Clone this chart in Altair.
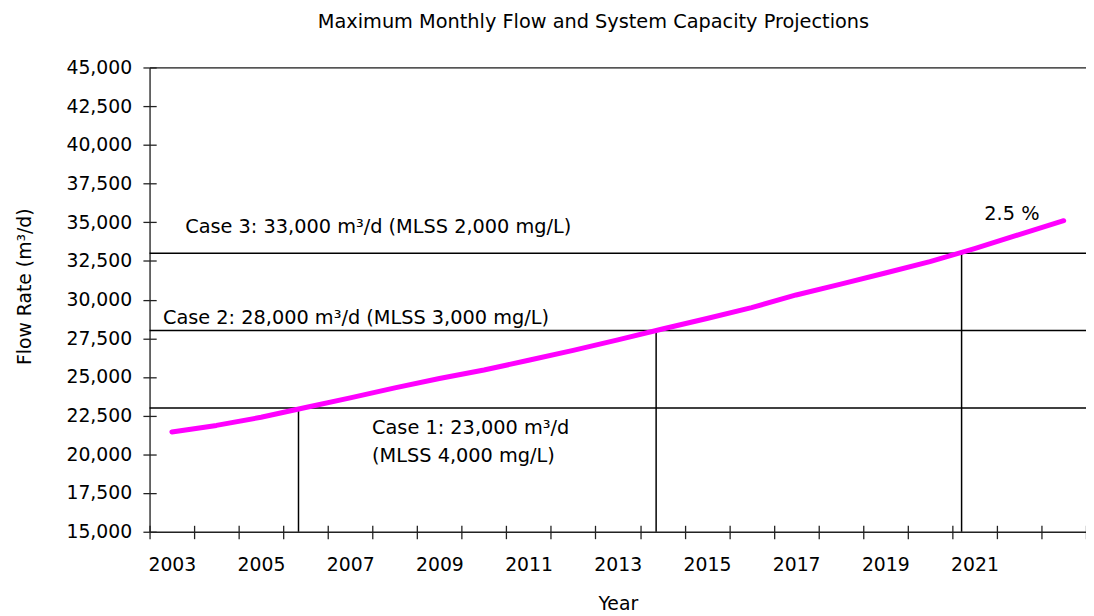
import altair as alt
import pandas as pd

# ---- data ----
years = list(range(2003, 2024))
flow = [21450, 21870, 22400, 23030, 23650, 24300, 24900, 25450, 26080, 26720,
        27400, 28100, 28780, 29480, 30300, 31000, 31720, 32450, 33300, 34200, 35100]

capacity = [23000, 28000, 33000]
reach_year = [2005.84, 2013.86, 2020.71]

ann_text = ["Case 3: 33,000 m³/d (MLSS 2,000 mg/L)",
            "Case 2: 28,000 m³/d (MLSS 3,000 mg/L)",
            "Case 1: 23,000 m³/d\n(MLSS 4,000 mg/L)",
            "2.5 %"]
ann_year = [2003.3, 2002.8, 2007.49, 2021.22]
ann_value = [34280, 28450, 21300, 35170]

y_ticks = list(range(15000, 45001, 2500))
x_labels = list(range(2003, 2022, 2))
x_bounds = [y - 0.5 for y in range(years[0], years[-1] + 2)]

FONT = "DejaVu Sans"
AX = "#222222"

flow_df = pd.DataFrame({"year": years, "flow": flow})
cap_df = pd.DataFrame({"cap": capacity, "reach": reach_year})
ann_df = pd.DataFrame({"label": ann_text, "ax": ann_year, "ay": ann_value})

xs = alt.Scale(domain=[years[0] - 0.5, years[-1] + 0.5], nice=False, zero=False)
ys = alt.Scale(domain=[15000, 45000], nice=False, zero=False)

# tick-only axes (ticks crossing the axis line)
x_tick_axis = alt.Axis(orient="bottom", values=x_bounds, labels=False, domain=False,
                       tickSize=13.5, offset=-6.5, tickColor=AX, tickWidth=1.3,
                       title=None, grid=False)
y_tick_axis = alt.Axis(orient="left", values=y_ticks, labels=False, domain=False,
                       tickSize=13.4, offset=-6.7, tickColor=AX, tickWidth=1.3,
                       title=None, grid=False)

# label axes with the axis lines
x_lab_axis = alt.Axis(orient="bottom", values=x_labels, format="d", ticks=False,
                      tickSize=0, labelPadding=24.5, domain=True, domainColor=AX,
                      domainWidth=1.3, labelFontSize=19, labelColor="black",
                      labelFont=FONT, labelOverlap=False, labelFlush=False,
                      title="Year", titleFontSize=19, titleFontWeight="normal",
                      titleFont=FONT, titleColor="black", titleBaseline="alphabetic",
                      titleY=79, grid=False)
y_lab_axis = alt.Axis(orient="left", values=y_ticks, format=",.0f", ticks=False,
                      tickSize=0, labelPadding=18, domain=True, domainColor=AX,
                      domainWidth=1.3, labelFontSize=19, labelColor="black",
                      labelFont=FONT, labelOverlap=False,
                      title="Flow Rate (m³/d)", titleFontSize=19,
                      titleFontWeight="normal", titleFont=FONT, titleColor="black",
                      titleAngle=270, titleBaseline="middle", titleAlign="center",
                      titleX=-126, titleY=221, grid=False)
top_axis = alt.Axis(orient="top", labels=False, ticks=False, domain=True,
                    domainColor=AX, domainWidth=1.3, title=None, grid=False)

hlines = alt.Chart(cap_df).mark_rule(color="black", strokeWidth=1.5).encode(
    y=alt.Y("cap:Q", scale=ys, axis=None)
)

drops = alt.Chart(cap_df).mark_rule(color="black", strokeWidth=1.5).encode(
    x=alt.X("reach:Q", scale=xs, axis=x_lab_axis),
    y=alt.Y("cap:Q", scale=ys, axis=y_lab_axis),
    y2=alt.datum(15000),
)

line = alt.Chart(flow_df).mark_line(color="#FF00FF", strokeWidth=5,
                                    strokeCap="round", strokeJoin="round").encode(
    x=alt.X("year:Q", scale=xs, axis=x_tick_axis),
    y=alt.Y("flow:Q", scale=ys, axis=y_tick_axis),
)

labels = alt.Chart(ann_df).mark_text(align="left", baseline="alphabetic",
                                     fontSize=19.5, font=FONT, color="black",
                                     lineBreak="\n", lineHeight=28.5).encode(
    x=alt.X("ax:Q", scale=xs, axis=top_axis),
    y=alt.Y("ay:Q", scale=ys, axis=None),
    text="label:N",
)

chart = alt.layer(hlines, drops, line, labels).resolve_axis(
    x="independent", y="independent"
).properties(
    width=946,
    height=469,
    autosize=alt.AutoSizeParams(type="none"),
    padding={"left": 143, "top": 57, "right": 0, "bottom": 80},
    title=alt.TitleParams(
        "Maximum Monthly Flow and System Capacity Projections",
        anchor="start", frame="group", dx=170, offset=26,
        fontSize=19.5, fontWeight="normal", font=FONT, color="black",
    ),
).configure_view(stroke=None).configure(font=FONT)

chart.save("out.html", embed_options={"renderer": "svg", "actions": False})
